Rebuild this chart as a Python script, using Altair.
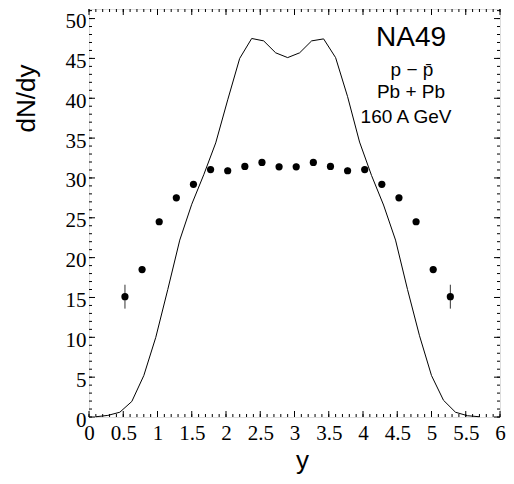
import altair as alt
import pandas as pd

# ---- data ----
pt_x = [0.525, 0.775, 1.025, 1.275, 1.525, 1.775, 2.025, 2.275, 2.525, 2.775,
        3.025, 3.275, 3.525, 3.775, 4.025, 4.275, 4.525, 4.775, 5.025, 5.275]
pt_y = [15.1, 18.5, 24.5, 27.5, 29.2, 31.05, 30.9, 31.45, 31.95, 31.4,
        31.4, 31.95, 31.45, 30.9, 31.05, 29.2, 27.5, 24.5, 18.5, 15.1]
pt_err = [1.5, 0.4, 0.4, 0.4, 0.4, 0.4, 0.4, 0.4, 0.4, 0.4,
          0.4, 0.4, 0.4, 0.4, 0.4, 0.4, 0.4, 0.4, 0.4, 1.5]

line_x = [0.1, 0.275, 0.45, 0.625, 0.8, 0.975, 1.15, 1.325, 1.5, 1.675, 1.85,
          2.025, 2.2, 2.375, 2.55, 2.725, 2.9, 3.075, 3.25, 3.425, 3.6, 3.775,
          3.95, 4.125, 4.3, 4.475, 4.65, 4.825, 5.0, 5.175, 5.35, 5.525, 5.7]
line_y = [0.03, 0.2, 0.6, 1.95, 5.2, 10.0, 16.0, 22.2, 26.7, 30.4, 34.4,
          39.8, 45.0, 47.5, 47.2, 45.7, 45.1, 45.7, 47.2, 47.45, 45.1, 40.2,
          34.5, 30.3, 26.6, 22.2, 16.0, 10.2, 5.2, 2.1, 0.6, 0.16, 0.03]

x_major = [0, 0.5, 1, 1.5, 2, 2.5, 3, 3.5, 4, 4.5, 5, 5.5, 6]
x_minor = [round(i * 0.1, 1) for i in range(61)]
y_major = [0, 5, 10, 15, 20, 25, 30, 35, 40, 45, 50]
y_minor = list(range(0, 52))

labels = ["NA49", "p \u2212 p\u0304", "Pb + Pb", "160 A GeV"]

W, H = 411, 408
XD = [0, 6]
YD = [0, 51.2]
SERIF = "Liberation Serif"
SANS = "Liberation Sans"

pts = pd.DataFrame({"x": pt_x, "y": pt_y, "lo": [a - b for a, b in zip(pt_y, pt_err)],
                    "hi": [a + b for a, b in zip(pt_y, pt_err)]})
curve = pd.DataFrame({"x": line_x, "y": line_y})

xs = alt.Scale(domain=XD, nice=False, zero=False)
ys = alt.Scale(domain=YD, nice=False, zero=False)

x_axis = alt.Axis(
    values=x_major, format="~g", title="y", ticks=False, domain=False, grid=False,
    labelPadding=5, labelOverlap=False, labelBound=False, labelFlush=False,
    titleX=213, titleY=51, titleBaseline="alphabetic", titleAlign="center")
y_axis = alt.Axis(
    values=y_major, format="~g", title="dN/dy", ticks=False, domain=False, grid=False,
    labelPadding=3, labelOffset=3, labelOverlap=False, labelBound=False, labelFlush=False,
    titleAngle=270, titleX=-55, titleY=89,
    titleBaseline="alphabetic", titleAlign="center")

base_line = alt.Chart(curve).mark_line(color="black", strokeWidth=1).encode(
    x=alt.X("x:Q", scale=xs, axis=x_axis, title="y"),
    y=alt.Y("y:Q", scale=ys, axis=y_axis, title="dN/dy"),
    order="x:Q",
)

err = alt.Chart(pts).mark_rule(color="#333333", strokeWidth=1).encode(
    x=alt.X("x:Q", scale=xs, axis=x_axis, title="y"),
    y=alt.Y("lo:Q", scale=ys, axis=y_axis, title="dN/dy"),
    y2="hi:Q",
)
dots = alt.Chart(pts).mark_circle(color="black", size=52, opacity=1).encode(
    x=alt.X("x:Q", scale=xs, axis=x_axis, title="y"),
    y=alt.Y("y:Q", scale=ys, axis=y_axis, title="dN/dy"),
)

def xticks(vals, length, top):
    df = pd.DataFrame({"t": vals})
    if top:
        yy, yy2 = alt.value(0), alt.value(length)
    else:
        yy, yy2 = alt.value(H), alt.value(H - length)
    return alt.Chart(df).mark_rule(color="black", strokeWidth=1).encode(
        x=alt.X("t:Q", scale=xs, axis=x_axis, title="y"), y=yy, y2=yy2)

def yticks(vals, length, right):
    df = pd.DataFrame({"t": vals})
    if right:
        xx, xx2 = alt.value(W), alt.value(W - length)
    else:
        xx, xx2 = alt.value(0), alt.value(length)
    return alt.Chart(df).mark_rule(color="black", strokeWidth=1).encode(
        y=alt.Y("t:Q", scale=ys, axis=y_axis, title="dN/dy"), x=xx, x2=xx2)

ticks = [
    xticks(x_minor, 3, False), xticks(x_major, 6, False),
    xticks(x_minor, 3, True), xticks(x_major, 6, True),
    yticks(y_minor, 3, False), yticks(y_major, 6, False),
    yticks(y_minor, 3, True), yticks(y_major, 6, True),
]

text_pos = [(322, 37, 28), (323, 67, 19), (322, 89, 19), (317, 114, 19)]
texts = []
for s, (tx, ty, fs) in zip(labels, text_pos):
    texts.append(alt.Chart(curve).mark_text(
        text=s, font=SANS, fontSize=fs, color="black",
        align="center", baseline="alphabetic").encode(
        x=alt.value(tx), y=alt.value(ty)).transform_filter("datum.x < 0.2"))

chart = alt.layer(base_line, *ticks, err, dots, *texts).properties(
    width=W, height=H,
    padding={"left": 81, "top": 1, "right": 6, "bottom": 59},
    autosize=alt.AutoSizeParams(type="none"),
).configure_view(stroke="black", strokeWidth=1).configure(
    background="white",
).configure_axis(
    labelFont=SERIF, labelFontSize=21, labelColor="black",
    titleFont=SANS, titleFontSize=26, titleFontWeight="normal", titleColor="black",
)

chart.save("out.html", embed_options={"renderer": "svg", "actions": False})
